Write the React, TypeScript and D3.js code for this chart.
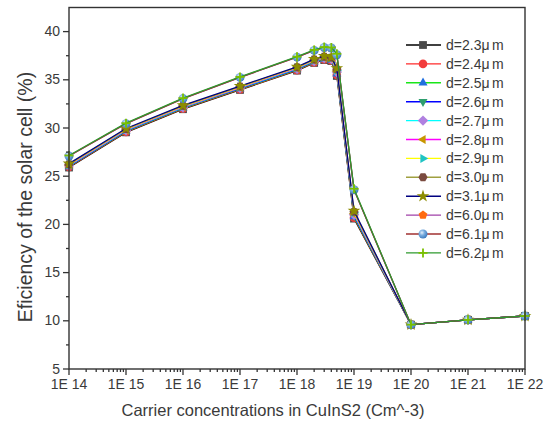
import React from "react";
import * as d3 from "d3";

// Carrier concentration (cm^-3) at each simulated point
const concentrations = [1e14, 1e15, 1e16, 1e17, 1e18, 2e18, 3e18, 4e18, 5e18, 1e19, 1e20, 1e21, 1e22];

// Efficiency (%) per absorber thickness
const eff23 = [25.9, 29.55, 31.95, 33.95, 35.95, 36.75, 37.05, 36.95, 35.4, 20.6, 9.6, 10.1, 10.5];
const eff24 = [25.95, 29.6, 32.0, 34.0, 36.0, 36.8, 37.1, 37.0, 35.5, 20.7, 9.6, 10.1, 10.5];
const eff25 = [26.0, 29.65, 32.05, 34.05, 36.05, 36.85, 37.15, 37.05, 35.6, 20.8, 9.6, 10.1, 10.5];
const eff26 = [26.05, 29.7, 32.1, 34.1, 36.1, 36.9, 37.2, 37.1, 35.7, 20.9, 9.6, 10.1, 10.5];
const eff27 = [26.1, 29.75, 32.15, 34.15, 36.15, 36.95, 37.25, 37.15, 35.8, 21.0, 9.6, 10.1, 10.5];
const eff28 = [26.15, 29.8, 32.2, 34.2, 36.2, 37.0, 37.3, 37.2, 35.9, 21.1, 9.6, 10.1, 10.5];
const eff29 = [26.2, 29.85, 32.25, 34.25, 36.25, 37.05, 37.35, 37.25, 36.0, 21.2, 9.6, 10.1, 10.5];
const eff30 = [26.25, 29.9, 32.3, 34.3, 36.3, 37.1, 37.4, 37.3, 36.1, 21.3, 9.6, 10.1, 10.5];
const eff31 = [26.3, 29.95, 32.35, 34.35, 36.35, 37.15, 37.45, 37.35, 36.2, 21.4, 9.6, 10.1, 10.5];
const eff60 = [27.1, 30.45, 33.05, 35.25, 37.35, 38.05, 38.35, 38.3, 37.6, 23.6, 9.6, 10.1, 10.5];
const eff61 = [27.1, 30.45, 33.05, 35.25, 37.35, 38.05, 38.35, 38.3, 37.6, 23.6, 9.6, 10.1, 10.5];
const eff62 = [27.15, 30.5, 33.1, 35.3, 37.4, 38.1, 38.4, 38.35, 37.7, 23.7, 9.6, 10.1, 10.5];

const seriesLabels = ["2.3", "2.4", "2.5", "2.6", "2.7", "2.8", "2.9", "3.0", "3.1", "6.0", "6.1", "6.2"];
const seriesValues = [eff23, eff24, eff25, eff26, eff27, eff28, eff29, eff30, eff31, eff60, eff61, eff62];
const lineColors = ["#000000", "#ff2a2a", "#19e619", "#0000ff", "#00ffff", "#ff00ff", "#ffff00", "#a0a040", "#000080", "#a040a8", "#a03030", "#2e9a2e"];
const markerColors = ["#4a4a4a", "#f23c3c", "#1f6fe0", "#2e9e6e", "#b080e0", "#c89600", "#20c4c4", "#7a4a3f", "#8c8c00", "#ff6a10", "#7aaee0", "#7ac000"];
const markerShapes = ["square", "circle", "triUp", "triDown", "diamond", "triLeft", "triRight", "hexagon", "star", "pentagon", "sphere", "plus"];

const yTicks = [5, 10, 15, 20, 25, 30, 35, 40];

const W = 547;
const H = 430;
const plot = { left: 69, right: 525, top: 7.5, bottom: 369 };

const x = d3.scaleLog().domain([1e14, 1e22]).range([plot.left, plot.right]);
const y = d3.scaleLinear().domain([5, 42.5]).range([plot.bottom, plot.top]);

function polygon(n: number, r: number, rot: number): string {
  const pts: string[] = [];
  for (let i = 0; i < n; i++) {
    const a = rot + (i * 2 * Math.PI) / n;
    pts.push(`${(r * Math.cos(a)).toFixed(2)},${(r * Math.sin(a)).toFixed(2)}`);
  }
  return "M" + pts.join("L") + "Z";
}

function Marker({ shape, color, cx, cy }: { shape: string; color: string; cx: number; cy: number }) {
  const t = `translate(${cx},${cy})`;
  const r = 4.6;
  switch (shape) {
    case "square":
      return <rect transform={t} x={-3.9} y={-3.9} width={7.8} height={7.8} fill={color} />;
    case "circle":
      return <circle transform={t} r={4.3} fill={color} />;
    case "triUp":
      return <path transform={t} d={polygon(3, 5.2, -Math.PI / 2)} fill={color} />;
    case "triDown":
      return <path transform={t} d={polygon(3, 5.2, Math.PI / 2)} fill={color} />;
    case "triLeft":
      return <path transform={t} d={polygon(3, 5.2, Math.PI)} fill={color} />;
    case "triRight":
      return <path transform={t} d={polygon(3, 5.2, 0)} fill={color} />;
    case "diamond":
      return <path transform={t} d={polygon(4, 5.2, 0)} fill={color} />;
    case "hexagon":
      return <path transform={t} d={polygon(6, r, 0)} fill={color} />;
    case "pentagon":
      return <path transform={t} d={polygon(5, r, -Math.PI / 2)} fill={color} />;
    case "star":
      return <path transform={t} d={d3.symbol(d3.symbolStar, 50)() as string} fill={color} />;
    case "sphere":
      return <circle transform={t} r={4.5} fill="url(#sphereFill)" />;
    case "plus":
      return (
        <g transform={t} stroke={color} strokeWidth={1.8}>
          <line x1={-4.5} x2={4.5} y1={0} y2={0} />
          <line x1={0} x2={0} y1={-4.5} y2={4.5} />
        </g>
      );
    default:
      return null;
  }
}

export default function App() {
  const line = d3
    .line<number>()
    .x((_, i) => x(concentrations[i]))
    .y((d) => y(d));

  const xAll = x.ticks();
  const xMajor = xAll.filter((v) => Math.abs(Math.log10(v) - Math.round(Math.log10(v))) < 1e-9);
  const xMinor = xAll.filter((v) => !xMajor.includes(v));
  const yMinor = d3.range(7.5, 42.5, 5);

  const axisColor = "#333";
  const textColor = "#3a3a3a";
  const font = "'Liberation Sans', Arial, sans-serif";

  const legendTop = 45;
  const legendStep = 18.9;

  return (
    <svg width={W} height={H} style={{ position: "absolute", left: 0, top: 0, background: "#fff" }} fontFamily={font}>
      <defs>
        <radialGradient id="sphereFill" cx="38%" cy="35%" r="65%">
          <stop offset="0%" stopColor="#e6f0fa" />
          <stop offset="45%" stopColor="#7aaee0" />
          <stop offset="100%" stopColor="#3f7cc0" />
        </radialGradient>
      </defs>

      {/* data series */}
      <g>
        {seriesValues.map((vals, si) => (
          <g key={si}>
            <path d={line(vals) as string} fill="none" stroke={lineColors[si]} strokeWidth={1.3} />
            {vals.map((v, i) => (
              <Marker key={i} shape={markerShapes[si]} color={markerColors[si]} cx={x(concentrations[i])} cy={y(v)} />
            ))}
          </g>
        ))}
      </g>

      {/* frame */}
      <rect
        x={plot.left}
        y={plot.top}
        width={plot.right - plot.left}
        height={plot.bottom - plot.top}
        fill="none"
        stroke={axisColor}
        strokeWidth={1.4}
      />

      {/* y axis */}
      <g stroke={axisColor} strokeWidth={1.3}>
        {yTicks.map((t) => (
          <line key={t} x1={plot.left - 6} x2={plot.left} y1={y(t)} y2={y(t)} />
        ))}
        {yMinor.map((t) => (
          <line key={t} x1={plot.left - 3} x2={plot.left} y1={y(t)} y2={y(t)} />
        ))}
      </g>
      <g fill={textColor} fontSize={14} textAnchor="end">
        {yTicks.map((t) => (
          <text key={t} x={plot.left - 9} y={y(t) + 4.5}>
            {t}
          </text>
        ))}
      </g>

      {/* x axis */}
      <g stroke={axisColor} strokeWidth={1.3}>
        {xMajor.map((t) => (
          <line key={t} x1={x(t)} x2={x(t)} y1={plot.bottom} y2={plot.bottom + 6} />
        ))}
        {xMinor.map((t) => (
          <line key={t} x1={x(t)} x2={x(t)} y1={plot.bottom} y2={plot.bottom + 3} />
        ))}
      </g>
      <g fill={textColor} fontSize={14} textAnchor="middle">
        {xMajor.map((t) => (
          <text key={t} x={x(t)} y={389}>
            {`1E ${Math.round(Math.log10(t))}`}
          </text>
        ))}
      </g>

      {/* axis titles */}
      <text x={273} y={416} textAnchor="middle" fontSize={16.5} fill={textColor}>
        Carrier concentrations in CuInS2 (Cm^-3)
      </text>
      <text transform="translate(32,197) rotate(-90)" textAnchor="middle" fontSize={19.5} fill={textColor}>
        Eficiency of the solar cell (%)
      </text>

      {/* legend */}
      <g>
        {seriesLabels.map((lab, si) => {
          const ly = legendTop + si * legendStep;
          return (
            <g key={lab}>
              <line x1={406} x2={441} y1={ly} y2={ly} stroke={lineColors[si]} strokeWidth={1.4} />
              <Marker shape={markerShapes[si]} color={markerColors[si]} cx={423} cy={ly} />
              <text x={446} y={ly + 5} fontSize={14} fill={textColor}>
                {`d=${lab}μ`}
                <tspan dx={2.5}>m</tspan>
              </text>
            </g>
          );
        })}
      </g>
    </svg>
  );
}
